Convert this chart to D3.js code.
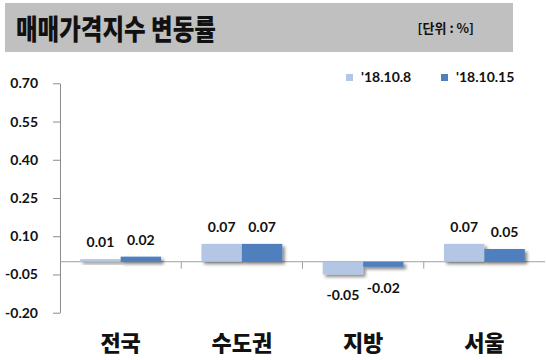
<!DOCTYPE html>
<html><head><meta charset="utf-8">
<script src="https://cdn.jsdelivr.net/npm/d3@7/dist/d3.min.js"></script>
<style>body{margin:0;background:#fff}svg{display:block}</style>
</head><body>
<svg id="c" width="546" height="360"></svg>
<script>
const categories = ["전국", "수도권", "지방", "서울"];
const seriesNames = ["'18.10.8", "'18.10.15"];
const series1 = [0.01, 0.07, -0.05, 0.07];
const series2 = [0.02, 0.07, -0.02, 0.05];
const yTicks = [-0.20, -0.05, 0.10, 0.25, 0.40, 0.55, 0.70];
const colors = ["#b3c6e3", "#4f7fbd"];
const title = "매매가격지수 변동률";
const unit = "[단위 : %]";

const fmt = d => d.toFixed(2);

const svg = d3.select("#c");
const defs = svg.append("defs");
const f = defs.append("filter").attr("id","sh").attr("x","-20%").attr("y","-50%").attr("width","150%").attr("height","250%");
f.append("feDropShadow").attr("dx",2.5).attr("dy",2.5).attr("stdDeviation",1.6).attr("flood-color","#000").attr("flood-opacity",0.45);

// title bar
svg.append("rect").attr("x",5).attr("y",3).attr("width",508).attr("height",49).attr("fill","#c0c0c0");
svg.append("text").attr("x",16).attr("y",0)
  .attr("transform","translate(0,40) scale(1,1.22)")
  .attr("font-family","'Noto Sans CJK KR'").attr("font-weight",900).attr("font-size",23.5)
  .attr("fill","#111").text(title);
svg.append("text").attr("x",474).attr("y",33).attr("text-anchor","end")
  .attr("font-family","'Noto Sans CJK KR'").attr("font-weight",700).attr("font-size",13)
  .attr("fill","#111").text(unit);

const x0 = d3.scaleBand().domain(categories).range([60,545]).paddingInner(0).paddingOuter(0);
const x1 = d3.scaleBand().domain([0,1]).range([0, x0.bandwidth()]).paddingInner(0).paddingOuter(0.5);
const y = d3.scaleLinear().domain([-0.2,0.7]).range([312.7,83.3]);

// y axis
const yAxis = d3.axisLeft(y).tickValues(yTicks).tickSize(7).tickSizeOuter(0).tickFormat(fmt);
const ga = svg.append("g").attr("transform","translate(60,0)").call(yAxis);
ga.select(".domain").attr("stroke","#8c8c8c");
ga.selectAll(".tick line").attr("stroke","#8c8c8c");
ga.selectAll(".tick text").attr("x",-22).attr("font-family","Lato").attr("font-weight",700).attr("font-size",14).attr("fill","#111");

// zero axis with category ticks
const xAxis = d3.axisBottom(x0).tickSize(0).tickFormat("");
const gx = svg.append("g").attr("transform",`translate(0,${y(0)})`).call(xAxis);
gx.select(".domain").attr("stroke","#a0a0a0").attr("d",`M60,0H545`);
const bounds = categories.slice(1).map(c => x0(c));
gx.selectAll(".sep").data(bounds).join("line").attr("class","sep")
  .attr("x1",d=>d).attr("x2",d=>d).attr("y1",0).attr("y2",7).attr("stroke","#a0a0a0");

// bars
const data = categories.map((c,i)=>({c, vals:[series1[i], series2[i]]}));
const groups = svg.append("g").selectAll("g").data(data).join("g")
  .attr("transform", d=>`translate(${x0(d.c)},0)`);
groups.selectAll("rect").data(d=>d.vals.map((v,k)=>({v,k}))).join("rect")
  .attr("x", d=>x1(d.k)).attr("width", x1.bandwidth())
  .attr("y", d=>y(Math.max(0,d.v))).attr("height", d=>Math.abs(y(d.v)-y(0)))
  .attr("fill", d=>colors[d.k]).attr("filter","url(#sh)");
groups.selectAll("text.v").data(d=>d.vals.map((v,k)=>({v,k}))).join("text").attr("class","v")
  .attr("x", d=>x1(d.k)+x1.bandwidth()/2)
  .attr("y", d=> d.v>=0 ? y(d.v)-12 : y(d.v)+26)
  .attr("text-anchor","middle").attr("font-family","Lato").attr("font-weight",700).attr("font-size",14).attr("fill","#111")
  .text(d=>fmt(d.v));

// category labels
svg.append("g").selectAll("text").data(categories).join("text")
  .attr("x", d=>x0(d)+x0.bandwidth()/2).attr("y",351).attr("text-anchor","middle")
  .attr("font-family","'Noto Sans CJK KR'").attr("font-weight",900).attr("font-size",22).attr("fill","#111")
  .text(d=>d);

// legend
const legX = [346, 441];
const lg = svg.append("g").selectAll("g").data(seriesNames).join("g")
  .attr("transform",(d,i)=>`translate(${legX[i]},0)`);
lg.append("rect").attr("x",0).attr("y",74).attr("width",7).attr("height",7).attr("fill",(d,i)=>colors[i]);
lg.append("text").attr("x",15).attr("y",82).attr("font-family","Lato").attr("font-weight",700).attr("font-size",14).attr("fill","#111").text(d=>d);
</script>
</body></html>
